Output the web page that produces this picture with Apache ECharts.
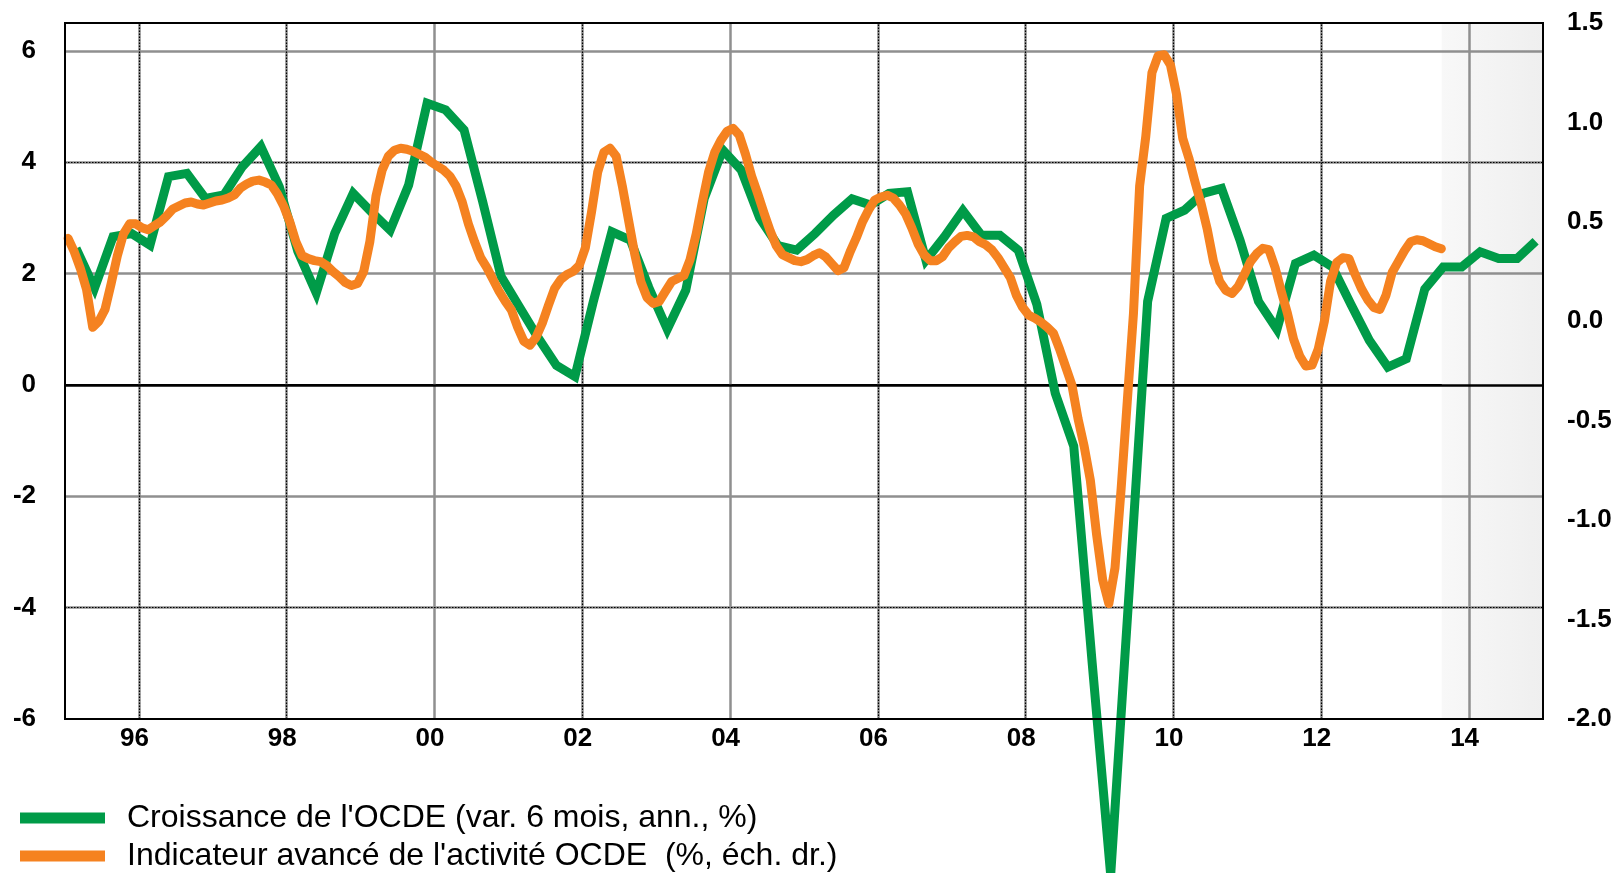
<!DOCTYPE html>
<html>
<head>
<meta charset="utf-8">
<script src="https://cdn.jsdelivr.net/npm/echarts@6/dist/echarts.min.js"></script>
<style>
html,body{margin:0;padding:0;background:#fff;}
#chart{width:1616px;height:873px;}
</style>
</head>
<body>
<div id="chart"></div>
<script>
// ---- Data ----
const seriesNames = ["Croissance de l'OCDE (var. 6 mois, ann., %)", "Indicateur avancé de l'activité OCDE  (%, éch. dr.)"];

// Green: OECD growth, quarterly, first point at 1995.15, one point per quarter
const greenStart = 1995.15;
const greenValues = [
  2.45, 1.74, 2.66, 2.72,
  2.51, 3.74, 3.80, 3.35,
  3.41, 3.92, 4.28, 3.56,
  2.40, 1.65, 2.72, 3.44,
  3.10, 2.78, 3.59, 5.06,
  4.94, 4.58, 3.30, 1.95,
  1.40, 0.85, 0.35, 0.15,
  1.50, 2.75, 2.60, 1.75,
  1.00, 1.70, 3.35, 4.22,
  3.86, 3.00, 2.50, 2.42,
  2.72, 3.05, 3.34, 3.23,
  3.44, 3.47, 2.24, 2.66,
  3.13, 2.69, 2.69, 2.42,
  1.45, -0.15, -1.10, -5.0,
  -8.8, -3.7, 1.5, 2.99,
  3.14, 3.44, 3.53, 2.60,
  1.50, 1.00, 2.18, 2.33,
  2.12, 1.45, 0.80, 0.32,
  0.47, 1.72, 2.12, 2.12,
  2.39, 2.27, 2.27, 2.58
];

// Orange: OECD leading indicator, monthly from Jan 1995 (right axis)
const orangeStartYear = 1995;
const orangeValues = [
  0.417, 0.35, 0.265, 0.16, -0.03, 0.0, 0.06, 0.19, 0.33, 0.44, 0.49, 0.49,
  0.47, 0.46, 0.48, 0.50, 0.53, 0.565, 0.58, 0.595, 0.60, 0.59, 0.585, 0.595,
  0.605, 0.61, 0.62, 0.635, 0.67, 0.69, 0.705, 0.71, 0.70, 0.685, 0.64, 0.58,
  0.50, 0.40, 0.33, 0.315, 0.305, 0.30, 0.28, 0.25, 0.225, 0.195, 0.18, 0.19,
  0.25, 0.40, 0.63, 0.76, 0.83, 0.86, 0.87, 0.865, 0.855, 0.84, 0.825, 0.80,
  0.78, 0.76, 0.73, 0.68, 0.60, 0.49, 0.40, 0.32, 0.27, 0.21, 0.15, 0.10,
  0.056, -0.03, -0.10, -0.12, -0.08, -0.01, 0.08, 0.165, 0.21, 0.235, 0.25, 0.28,
  0.37, 0.55, 0.75, 0.85, 0.87, 0.83, 0.68, 0.51, 0.34, 0.20, 0.12, 0.09,
  0.10, 0.15, 0.20, 0.215, 0.23, 0.31, 0.44, 0.60, 0.75, 0.85, 0.91, 0.955,
  0.97, 0.935, 0.84, 0.73, 0.64, 0.545, 0.455, 0.38, 0.335, 0.32, 0.305, 0.30,
  0.31, 0.33, 0.345, 0.325, 0.29, 0.255, 0.27, 0.35, 0.42, 0.50, 0.56, 0.61,
  0.625, 0.634, 0.62, 0.585, 0.54, 0.47, 0.39, 0.335, 0.305, 0.305, 0.325, 0.37,
  0.40, 0.427, 0.432, 0.425, 0.40, 0.385, 0.36, 0.32, 0.27, 0.22, 0.13, 0.07,
  0.03, 0.015, -0.005, -0.03, -0.06, -0.14, -0.23, -0.32, -0.49, -0.63, -0.80, -1.07,
  -1.30, -1.42, -1.24, -0.84, -0.40, 0.04, 0.68, 0.93, 1.25, 1.335, 1.34, 1.29,
  1.14, 0.92, 0.82, 0.70, 0.59, 0.46, 0.30, 0.20, 0.155, 0.14, 0.175, 0.235,
  0.30, 0.34, 0.367, 0.36, 0.27, 0.15, 0.04, -0.09, -0.175, -0.225, -0.22, -0.14,
  0.0, 0.20, 0.295, 0.32, 0.315, 0.235, 0.165, 0.11, 0.07, 0.06, 0.13, 0.245,
  0.30, 0.355, 0.40, 0.41, 0.405, 0.39, 0.375, 0.365
];

// Axes / grid tick lists
const xMin = 1995, xMax = 2015;
const leftMin = -6, leftMax = 6.5, leftInterval = 2;
const rightMin = -2, rightMax = 1.5, rightInterval = 0.5;
const xGridAll = [1996, 1998, 2000, 2002, 2004, 2006, 2008, 2010, 2012, 2014];
const xGridDotted = [1996, 1998, 2002, 2006, 2008, 2010, 2012];
const yGridGray = [6, 4, 2, -2, -4];
const yGridDotted = [4, -4];
const yZero = [0];
const forecastStart = 2013.63;

// ---- Build ----
const greenData = greenValues.map((v, i) => [greenStart + i / 4, v]);
const orangeData = orangeValues.map((v, i) => [orangeStartYear + (i + 0.5) / 12, v]);

const FONT = "'Liberation Sans', Arial, sans-serif";
const chart = echarts.init(document.getElementById('chart'), null, {renderer: 'canvas'});

const legendBase = {
  orient: 'horizontal', left: 20, padding: 0,
  itemWidth: 85, itemHeight: 11,
  icon: 'rect',
  textStyle: {fontFamily: FONT, fontSize: 32, color: '#000', padding: [0, 0, 0, 17]}
};

const option = {
  animation: false,
  backgroundColor: '#ffffff',
  grid: {left: 65, right: 73, top: 23, bottom: 154, show: true, borderColor: '#000', borderWidth: 2, backgroundColor: 'transparent', z: 10},
  legend: [
    Object.assign({}, legendBase, {top: 802, data: [seriesNames[0]]}),
    Object.assign({}, legendBase, {top: 840, data: [seriesNames[1]]})
  ],
  xAxis: {
    type: 'value', min: xMin, max: xMax, interval: 1,
    axisLine: {show: true, lineStyle: {color: '#000', width: 2}},
    axisTick: {show: false},
    splitLine: {show: false},
    axisLabel: {
      fontFamily: FONT, fontSize: 26, fontWeight: 'bold', color: '#000', margin: 7,
      padding: [0, 9, 0, 0],
      formatter: v => (v % 2 === 0 ? String(v).slice(2) : '')
    }
  },
  yAxis: [
    {
      type: 'value', position: 'left', min: leftMin, max: leftMax, interval: leftInterval,
      axisLine: {show: true, lineStyle: {color: '#000', width: 2}},
      axisTick: {show: false}, splitLine: {show: false},
      axisLabel: {
        fontFamily: FONT, fontSize: 26, fontWeight: 'bold', color: '#000', margin: 29,
        formatter: v => (Math.abs(v % 2) < 1e-9 ? String(v) : '')
      }
    },
    {
      type: 'value', position: 'right', min: rightMin, max: rightMax, interval: rightInterval,
      axisLine: {show: true, lineStyle: {color: '#000', width: 2}},
      axisTick: {show: false}, splitLine: {show: false},
      axisLabel: {
        fontFamily: FONT, fontSize: 26, fontWeight: 'bold', color: '#000', margin: 24,
        formatter: v => v.toFixed(1)
      }
    }
  ],
  series: [
    {
      type: 'line', data: [], z: 1, silent: true,
      markArea: {
        silent: true,
        itemStyle: {color: new echarts.graphic.LinearGradient(0, 0, 1, 0, [{offset: 0, color: '#f8f8f8'}, {offset: 1, color: '#efefef'}])},
        data: [[{xAxis: forecastStart}, {xAxis: xMax}]]
      }
    },
    {
      type: 'line', data: [], z: 2, silent: true,
      markLine: {
        silent: true, symbol: ['none', 'none'], label: {show: false},
        lineStyle: {color: '#8f8f8f', width: 2.5, type: 'solid'},
        data: xGridAll.map(v => ({xAxis: v})).concat(yGridGray.map(v => ({yAxis: v})))
      }
    },
    {
      type: 'line', data: [], z: 3, silent: true,
      markLine: {
        silent: true, symbol: ['none', 'none'], label: {show: false},
        lineStyle: {color: '#000', width: 1.2, type: [1.5, 1.5]},
        data: xGridDotted.map(v => ({xAxis: v})).concat(yGridDotted.map(v => ({yAxis: v})))
      }
    },
    {
      type: 'line', data: [], z: 3, silent: true,
      markLine: {
        silent: true, symbol: ['none', 'none'], label: {show: false},
        lineStyle: {color: '#000', width: 2.5, type: 'solid'},
        data: yZero.map(v => ({yAxis: v}))
      }
    },
    {
      name: seriesNames[0], type: 'line', yAxisIndex: 0, data: greenData,
      showSymbol: false, symbol: 'none', clip: false, z: 5,
      itemStyle: {color: '#009b48'},
      lineStyle: {color: '#009b48', width: 9, join: 'miter', miterLimit: 10}
    },
    {
      name: seriesNames[1], type: 'line', yAxisIndex: 1, data: orangeData,
      showSymbol: false, symbol: 'none', clip: false, z: 6,
      itemStyle: {color: '#f58220'},
      lineStyle: {color: '#f58220', width: 9, join: 'round', cap: 'round'}
    }
  ]
};
chart.setOption(option);
</script>
</body>
</html>
